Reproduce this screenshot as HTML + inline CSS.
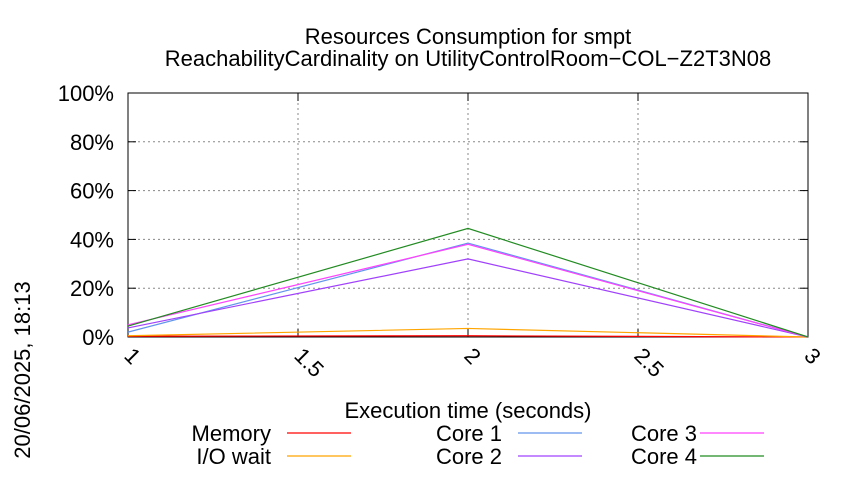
<!DOCTYPE html>
<html><head><meta charset="utf-8"><style>body{margin:0;background:#fff}svg text{font-family:"Liberation Sans",sans-serif;fill:#000}</style></head>
<body>
<svg id="chart" width="850" height="475" xmlns="http://www.w3.org/2000/svg">
<text x="468" y="44" font-size="22" text-anchor="middle">Resources Consumption for smpt</text>
<text x="468" y="66" font-size="22" text-anchor="middle">ReachabilityCardinality on UtilityControlRoom−COL−Z2T3N08</text>
<text transform="translate(30,370) rotate(-90)" font-size="22" text-anchor="middle">20/06/2025, 18:13</text>
<text x="468" y="418" font-size="22" text-anchor="middle">Execution time (seconds)</text>
<g id="grid"></g><g id="series"></g><g id="legend"></g>
</svg>
<script>
const xValues=[1,2,3];
const memory=[0.3,0.5,0];
const ioWait=[0.5,3.5,0];
const core1=[2,38.5,0];
const core2=[3.7,32,0];
const core3=[5,38,0];
const core4=[4.5,44.5,0];
const xTicks=[1,1.5,2,2.5,3];
const yTicks=[0,20,40,60,80,100];
const NS="http://www.w3.org/2000/svg";
const X0=128,X1=808,Y0=337,Y1=93;
const xs=v=>X0+(v-1)/2*(X1-X0), ys=v=>Y0-v/100*(Y0-Y1);
function mk(t,a,p){const e=document.createElementNS(NS,t);for(const k in a)e.setAttribute(k,a[k]);p.appendChild(e);return e;}
const g=document.getElementById('grid');
yTicks.forEach(v=>{const y=ys(v);
 if(v>0){const l=mk('line',{x1:X0,x2:X1,y1:y,y2:y,stroke:'#888','stroke-dasharray':'2,3','stroke-width':1},g);}
 const t=mk('text',{x:114,y:y+8,'font-size':22,'text-anchor':'end'},g);t.textContent=v+'%';
 mk('line',{x1:X0,x2:X0+8,y1:y,y2:y,stroke:'#000'},g);mk('line',{x1:X1,x2:X1-8,y1:y,y2:y,stroke:'#000'},g);});
xTicks.forEach(v=>{const x=xs(v);
 if(v>1&&v<3){const l=mk('line',{x1:x,x2:x,y1:Y1,y2:Y0,stroke:'#888','stroke-dasharray':'2,3'},g);}
 mk('line',{x1:x,x2:x,y1:Y0,y2:Y0-8,stroke:'#000'},g);mk('line',{x1:x,x2:x,y1:Y1,y2:Y1+8,stroke:'#000'},g);
 const t=mk('text',{transform:`translate(${x-5},${Y0+20}) rotate(45)`,'font-size':22},g);t.textContent=v;});
const fr=mk('rect',{x:X0,y:Y1,width:X1-X0,height:Y0-Y1,fill:'none',stroke:'#000','stroke-width':1},g);

const S=[['Memory',memory,'#ff0000'],['I/O wait',ioWait,'#ffa500'],['Core 1',core1,'#6495ed'],['Core 2',core2,'#a040ff'],['Core 3',core3,'#ff40ff'],['Core 4',core4,'#228b22']];
const sg=document.getElementById('series'),lg=document.getElementById('legend');
const pos=[[271,287,433],[271,287,456],[502,518,433],[502,518,456],[697,700,433],[697,700,456]];
S.forEach((s,i)=>{
 const p=mk('polyline',{points:xValues.map((x,j)=>xs(x)+','+ys(s[1][j])).join(' '),fill:'none',stroke:s[2],'stroke-width':1.2},sg);
 
 const [tx,lx,y]=pos[i];
 const t=mk('text',{x:tx,y:y+8,'font-size':22,'text-anchor':'end'},lg);t.textContent=s[0];
 const l=mk('line',{x1:lx,x2:lx+64,y1:y,y2:y,stroke:s[2],'stroke-width':1.2},lg);
});
</script>
</body></html>
